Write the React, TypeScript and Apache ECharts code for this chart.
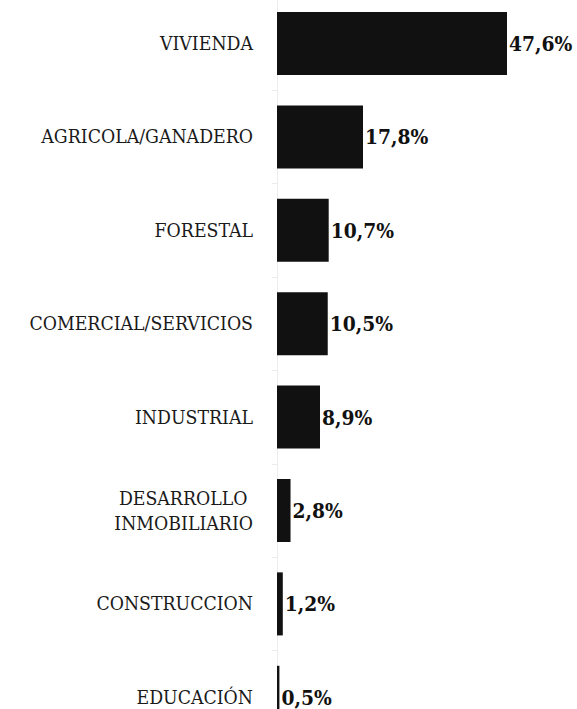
import React, { useEffect, useRef } from "react";
import * as echarts from "echarts";

const categories = [
  "VIVIENDA",
  "AGRICOLA/GANADERO",
  "FORESTAL",
  "COMERCIAL/SERVICIOS",
  "INDUSTRIAL",
  "DESARROLLO \nINMOBILIARIO",
  "CONSTRUCCION",
  "EDUCACIÓN",
];
const values = [47.6, 17.8, 10.7, 10.5, 8.9, 2.8, 1.2, 0.5];

export default function App() {
  const ref = useRef<HTMLDivElement>(null);
  useEffect(() => {
    if (!ref.current) return;
    const chart = echarts.init(ref.current, null, { renderer: "svg" });
    chart.setOption({
      animation: false,
      backgroundColor: "#ffffff",
      grid: { left: 277, top: 0.8, height: 747.2, width: 241.6, containLabel: false },
      xAxis: { type: "value", min: 0, max: 50, show: false },
      yAxis: {
        type: "category",
        data: categories,
        inverse: true,
        axisLine: { show: true, lineStyle: { color: "#ececec", width: 1 } },
        axisTick: { show: true, length: 5, lineStyle: { color: "#ececec" } },
        axisLabel: {
          margin: 24,
          color: "#1a1a1a",
          fontFamily: "DejaVu Serif Condensed, Liberation Serif",
          fontSize: 19.3,
          lineHeight: 25,
          align: "right",
        },
      },
      series: [
        {
          type: "bar",
          data: values,
          barCategoryGap: "32.5%",
          itemStyle: { color: "#111111" },
          label: {
            show: true,
            position: "right",
            distance: 2,
            color: "#111111",
            fontFamily: "DejaVu Serif Condensed, Liberation Serif",
            fontWeight: "bold",
            fontSize: 20.8,
            formatter: (p: any) => p.value.toFixed(1).replace(".", ",") + "%",
          },
        },
      ],
    });
    return () => chart.dispose();
  }, []);
  return (
    <div
      style={{
        position: "fixed",
        left: 0,
        top: 0,
        width: 577,
        height: 709,
        overflow: "hidden",
        background: "#ffffff",
      }}
    >
      <div
        ref={ref}
        style={{ position: "absolute", left: 0, top: -4, width: 577, height: 752 }}
      />
    </div>
  );
}
